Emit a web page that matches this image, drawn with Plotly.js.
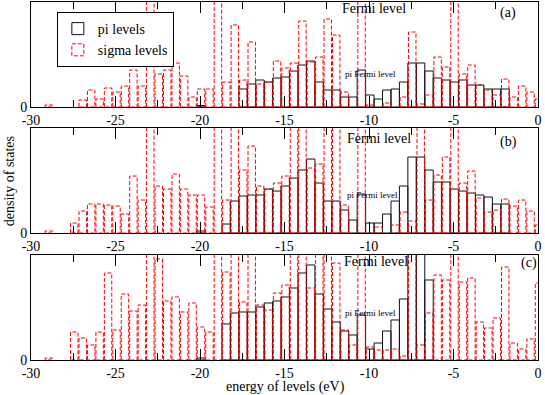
<!DOCTYPE html>
<html>
<head>
<meta charset="utf-8">
<script src="https://cdn.plot.ly/plotly-3.0.1.min.js"></script>
<style>
  html, body { margin: 0; padding: 0; background: #fff; }
  #graph { width: 545px; height: 395px; }
</style>
</head>
<body>
<div id="graph"></div>
<script>
// histogram bins: 0.5 eV wide, first bin centred at -29.95 eV
var binStart = -29.95;
var binWidth = 0.5;

// bar heights (150 = runs off the top of the panel)
// panel (a)
var piA = [0,0,0,0,0,0,0,0,0,0, 0,0,0,0,0,0,0,0,0,0,
           1.5,0,0,0,0,18,23,27,25,29, 30,36,42,46,25,17,17,10,10,37,
           12,8,17,18,25,44,44,36,29,27, 25,27,22,22,18,18,18,0,0,0, 0];
var sigA = [0,0,2,0,0,0,7,17,8,19, 15,21,37,21,150,33,37,44,31,10,
            18,18,150,25,82,27,65,23,25,46, 39,44,86,45,50,88,72,15,0,150,
            2,0,4,0,10,75,3,12,50,40, 150,33,42,22,17,12,28,10,21,15, 8];
// panel (b)
var piB = [0,0,0,0,0,0,0,0,0,0, 0,0,0,0,0,0,0,0,0,0,
           2,0,0,9,32,37,38,38,44,42, 47,55,63,74,50,32,32,23,13,39,
           10,10,19,32,47,76,76,63,51,51, 44,42,40,38,36,29,29,0,0,0, 0];
var sigB = [0,0,2,0,0,10,22,29,29,28, 27,19,57,33,150,47,44,59,44,38,
            38,26,150,33,150,63,87,47,44,50, 57,150,150,65,69,150,150,28,0,150,
            0,6,0,8,21,12,150,33,58,76, 150,50,62,35,21,23,34,27,33,22, 8];
// panel (c)
var piC = [0,0,0,0,0,0,0,0,0,0, 0,0,0,0,0,0,0,0,0,0,
           2,0,0,36,47,48,48,53,57,59, 63,72,87,95,66,51,38,29,25,45,
           11,17,29,40,61,150,150,80,0,0, 0,0,0,0,0,0,0,0,0,0, 0];
var sigC = [0,0,2,0,0,28,22,15,28,87, 30,66,49,55,150,101,59,63,48,57,
            33,28,150,88,150,58,150,55,50,67, 75,150,150,72,150,150,97,30,15,150,
            13,10,10,11,4,150,15,47,85,80, 150,78,82,38,32,42,93,17,11,21, 77];

var tickVals = [-30, -25, -20, -15, -10, -5, 0];
var tickText = ['-30', '-25', '-20', '-15', '-10', '-5', '0'];

var font = 'Liberation Serif, Times New Roman, serif';

var energy = [];
for (var i = 0; i < sigA.length; i++) {
  energy.push(+(binStart + i * binWidth).toFixed(2));
}

function clean(arr) {
  return arr.map(function (v) { return v > 0 ? v : null; });
}

var panels = [
  {xa: 'x',  ya: 'y',  pi: piA, sig: sigA},
  {xa: 'x2', ya: 'y2', pi: piB, sig: sigB},
  {xa: 'x3', ya: 'y3', pi: piC, sig: sigC}
];

var data = [];
panels.forEach(function (p, n) {
  data.push({
    type: 'bar', name: 'pi levels', x: energy, y: clean(p.pi),
    xaxis: p.xa, yaxis: p.ya, width: 0.5,
    marker: {color: 'rgba(0,0,0,0)', line: {color: '#111', width: 1}},
    showlegend: n === 0, legendgroup: 'pi', hoverinfo: 'skip'
  });
  data.push({
    type: 'bar', name: 'sigma levels', x: energy, y: clean(p.sig),
    xaxis: p.xa, yaxis: p.ya, width: 0.44, offset: -0.21,
    marker: {color: 'rgba(0,0,0,0)', line: {color: 'rgb(255,0,0)', width: 1}},
    showlegend: n === 0, legendgroup: 'sigma', hoverinfo: 'skip'
  });
});

function xAxis(anchor) {
  return {
    anchor: anchor, range: [-30, 0],
    tickmode: 'array', tickvals: tickVals, ticktext: tickText,
    ticks: 'inside', ticklen: 11, tickwidth: 1, tickcolor: '#000',
    minor: {tickmode: 'linear', tick0: -30, dtick: 2.5, ticks: 'inside', ticklen: 7, tickwidth: 1, tickcolor: '#000'},
    showline: true, linecolor: '#000', linewidth: 1, mirror: 'ticks',
    showgrid: false, zeroline: false,
    tickfont: {family: font, size: 14, color: '#000'}
  };
}
function yAxis(anchor, dom) {
  return {
    anchor: anchor, domain: dom, range: [0, 105],
    tickmode: 'array', tickvals: [0], ticktext: ['0'], ticks: '',
    showline: true, linecolor: '#000', linewidth: 1, mirror: true,
    showgrid: false, zeroline: false,
    tickfont: {family: font, size: 14, color: '#000'}
  };
}

function note(xa, ya, x, y, text, size) {
  return {xref: xa, yref: ya, x: x, y: y, text: text, showarrow: false,
          xanchor: 'center', yanchor: 'middle',
          font: {family: font, size: size, color: '#000'}};
}

var layout = {
  width: 545, height: 395,
  margin: {l: 31, r: 7, t: 2, b: 35},
  paper_bgcolor: '#fff', plot_bgcolor: '#fff',
  barmode: 'overlay',
  font: {family: font, size: 14, color: '#000'},
  xaxis: xAxis('y'), yaxis: yAxis('x', [0.7067, 1]),
  xaxis2: xAxis('y2'), yaxis2: yAxis('x2', [0.3547, 0.648]),
  xaxis3: xAxis('y3'), yaxis3: yAxis('x3', [0, 0.2933]),
  showlegend: true,
  legend: {
    x: 0.051, y: 0.972, xanchor: 'left', yanchor: 'top',
    bgcolor: '#fff', bordercolor: '#000', borderwidth: 1,
    font: {family: font, size: 14, color: '#000'},
    itemwidth: 30, tracegroupgap: 0
  },
  annotations: [
    note('x', 'y', -9.7, 99, 'Fermi level', 14),
    note('x2', 'y2', -9.4, 95, 'Fermi level', 14),
    note('x3', 'y3', -9.6, 98, 'Fermi level', 14),
    note('x', 'y', -9.9, 33, 'pi Fermi level', 9),
    note('x2', 'y2', -9.8, 38, 'pi Fermi level', 9),
    note('x3', 'y3', -9.9, 47, 'pi Fermi level', 9),
    note('x', 'y', -1.75, 94, '(a)', 14),
    note('x2', 'y2', -1.75, 91, '(b)', 14),
    note('x3', 'y3', -0.55, 97, '(c)', 14),
    {xref: 'paper', yref: 'paper', x: -0.043, y: 0.5, text: 'density of states',
     xanchor: 'center', yanchor: 'middle',
     textangle: -90, showarrow: false, font: {family: font, size: 14, color: '#000'}},
    {xref: 'paper', yref: 'paper', x: 0.501, y: -0.075, text: 'energy of levels (eV)',
     xanchor: 'center', yanchor: 'middle',
     showarrow: false, font: {family: font, size: 14, color: '#000'}}
  ]
};

Plotly.newPlot('graph', data, layout, {staticPlot: true}).then(function (gd) {
  // sigma bars are drawn dashed
  gd.querySelectorAll('.barlayer path, .legendpoints path').forEach(function (p) {
    if ((p.style.stroke || '').indexOf('255, 0, 0') >= 0) {
      p.style.strokeDasharray = '4px,2px';
    }
  });
});
</script>
</body>
</html>
